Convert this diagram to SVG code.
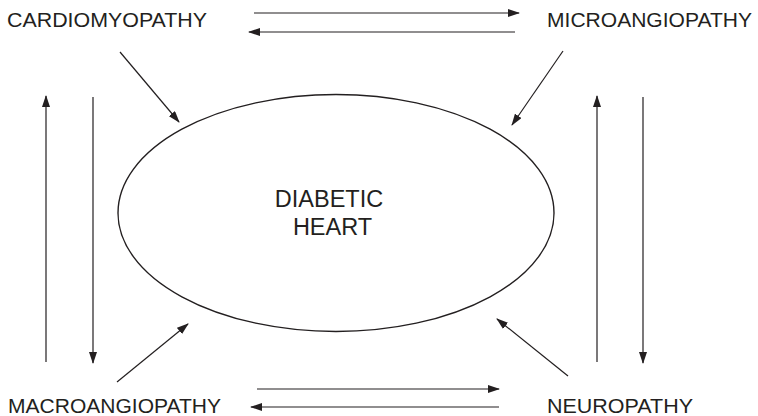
<svg xmlns="http://www.w3.org/2000/svg" width="758" height="416" viewBox="0 0 758 416">
<defs>
<marker id="ah" markerWidth="12" markerHeight="8" refX="11" refY="4" orient="auto" markerUnits="userSpaceOnUse">
<path d="M0,0 L12,4 L0,8 Z" fill="#231f20"/>
</marker>
</defs>
<style>
text{font-family:"Liberation Sans",Arial,sans-serif;font-size:21px;fill:#231f20}
.big{font-size:23.5px}
.c line{stroke:#231f20;stroke-width:1.2;fill:none}
.a{marker-end:url(#ah)}
</style>
<rect width="758" height="416" fill="#fff"/>
<g id="heart">
<ellipse cx="336" cy="213" rx="218" ry="118.5" fill="none" stroke="#231f20" stroke-width="1.4"/>
<text class="big" x="329" y="207" text-anchor="middle">DIABETIC</text>
<text class="big" x="332.5" y="235" text-anchor="middle">HEART</text>
</g>
<g id="cardiomyopathy"><text x="7" y="27" textLength="200" lengthAdjust="spacingAndGlyphs">CARDIOMYOPATHY</text></g>
<g id="microangiopathy"><text x="547" y="27" textLength="205" lengthAdjust="spacingAndGlyphs">MICROANGIOPATHY</text></g>
<g id="macroangiopathy"><text x="8" y="413" textLength="213" lengthAdjust="spacingAndGlyphs">MACROANGIOPATHY</text></g>
<g id="neuropathy"><text x="547" y="413" textLength="146" lengthAdjust="spacingAndGlyphs">NEUROPATHY</text></g>
<g id="connectors" class="c">
<line class="a" x1="254" y1="13" x2="519" y2="13"/>
<line class="a" x1="515" y1="32" x2="249" y2="32"/>
<line class="a" x1="257" y1="389" x2="499" y2="389"/>
<line class="a" x1="499" y1="407" x2="251" y2="407"/>
<line class="a" x1="46" y1="362" x2="46" y2="96"/>
<line class="a" x1="93" y1="97" x2="93" y2="363"/>
<line class="a" x1="597" y1="362" x2="597" y2="96"/>
<line class="a" x1="643" y1="97" x2="643" y2="363"/>
<line class="a" x1="120" y1="52" x2="179" y2="122"/>
<line class="a" x1="563" y1="51" x2="512" y2="125"/>
<line class="a" x1="117" y1="382" x2="188" y2="324"/>
<line class="a" x1="568" y1="376" x2="497" y2="319"/>
</g>
</svg>
